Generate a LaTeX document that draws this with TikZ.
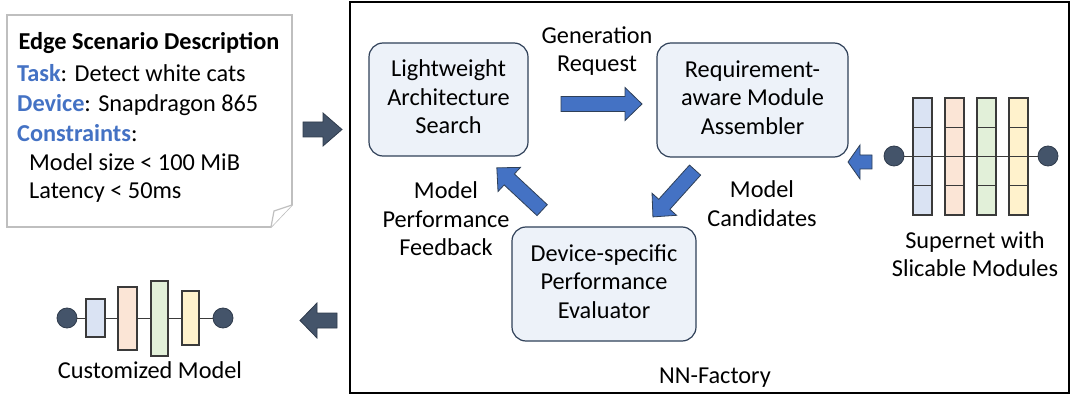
\documentclass[tikz,border=0pt]{standalone}
\usepackage{fontspec}
\setmainfont{Carlito}
\definecolor{accent}{HTML}{4472C4}
\definecolor{navy}{HTML}{44546A}
\definecolor{navyline}{HTML}{2F3B4C}
\definecolor{boxfill}{HTML}{EDF2F9}
\definecolor{boxline}{HTML}{2F4058}
\definecolor{notegray}{HTML}{BFBFBF}
\definecolor{cblue}{HTML}{DAE3F3}
\definecolor{cpeach}{HTML}{FBE5D6}
\definecolor{cgreen}{HTML}{E2F0D9}
\definecolor{cyellow}{HTML}{FFF2CC}
\definecolor{cellline}{HTML}{3A3A3A}
\newcommand{\bigtxt}{\fontsize{24.3}{28.5}\selectfont}
% style, cx, cy, angle, length, body half, head half, head length
\newcommand{\blockarrow}[8]{%
  \begin{scope}[shift={(#2,#3)}, rotate=#4]
    \draw[#1] (-#5/2,-#6) -- (#5/2-#8,-#6) -- (#5/2-#8,-#7) -- (#5/2,0)
      -- (#5/2-#8,#7) -- (#5/2-#8,#6) -- (-#5/2,#6) -- cycle;
  \end{scope}}
\begin{document}
\begin{tikzpicture}[x=1pt,y=-1pt,
  every node/.style={font=\bigtxt, inner sep=0pt},
  procbox/.style={draw=boxline, line width=1.2pt, fill=boxfill, rounded corners=14pt, align=center},
  lbl/.style={align=center},
  darrowst/.style={draw=navyline, fill=navy, line width=0.8pt, line join=miter},
  barrowst/.style={draw=boxline, fill=accent, line width=0.8pt, line join=miter},
  dot/.style={circle, draw=navyline, fill=navy, line width=0.8pt, minimum size=20pt},
  cell/.style={draw=cellline, line width=1.1pt},
]
\useasboundingbox (0,0) rectangle (1071,398);
% ---- note ----
\draw[notegray, line width=1.6pt, fill=white] (7,15) -- (292,15) -- (292,205) -- (271,227) -- (7,227) -- cycle;
\draw[notegray, line width=1.2pt, fill=white] (271,227) -- (274,211) -- (292,205);
\node[anchor=base] (title) at (149,50) {\bfseries Edge Scenario Description};
\node[anchor=base west] (task) at (17,82) {\textcolor{accent}{\bfseries Task}: Detect white cats};
\node[anchor=base west] (dev) at (17,112) {\textcolor{accent}{\bfseries Device}: Snapdragon 865};
\node[anchor=base west] (cons) at (17,142) {\textcolor{accent}{\bfseries Constraints}:};
\node[anchor=base west] (msize) at (29,171) {Model size < 100 MiB};
\node[anchor=base west] (lat) at (29,199) {Latency < 50ms};
% ---- NN-Factory frame ----
\draw[black, line width=1.2pt] (350,2) rectangle (1069,393) ;
\node[anchor=base] (nnf) at (715,383) {NN-Factory};
% ---- process boxes ----
\node[procbox, minimum width=159pt, minimum height=113pt] (las) at (448.5,99.5)
  {\strut Lightweight\\\strut Architecture\\\strut Search};
\node[procbox, minimum width=191pt, minimum height=114pt] (ram) at (752.5,100)
  {\strut Requirement-\\\strut aware Module\\\strut Assembler};
\node[procbox, minimum width=184pt, minimum height=114pt] (dpe) at (604,284)
  {\strut Device-specific\\\strut Performance\\\strut Evaluator};
% ---- labels ----
\node[lbl] (genreq) at (597,51.8) {\strut Generation\\\strut Request};
\node[lbl] (mpf) at (446,221.5) {\strut Model\\\strut Performance\\\strut Feedback};
\node[lbl] (mc) at (762,206.3) {\strut Model\\\strut Candidates};
\node[lbl] (snl) at (975,256.8) {\strut Supernet with\\\strut Slicable Modules};
\node[lbl] (cml) at (150,372.3) {\strut Customized Model};
% ---- blue arrows ----
\blockarrow{barrowst}{601.5}{104}{0}{81}{7.5}{16.5}{17}
\blockarrow{barrowst}{674}{193.5}{228}{63}{7.5}{16.5}{17}
\blockarrow{barrowst}{519.5}{189}{137}{62}{7.5}{16.5}{17}
\blockarrow{barrowst}{860}{162}{180}{24}{7}{17}{12}
% ---- dark arrows ----
\blockarrow{darrowst}{322.5}{129.5}{0}{39}{7.5}{16.5}{19}
\blockarrow{darrowst}{318.5}{320.5}{180}{37}{7.5}{17.5}{17}
% ---- supernet ----
\node[dot] (sin) at (894,156) {};
\node[dot] (sout) at (1048,156) {};
\draw[cellline, line width=0.6pt] (sin) -- (sout);
\foreach \x/\c in {913/cblue, 945/cpeach, 977/cgreen, 1009/cyellow}{
  \foreach \y in {98,127.25,156.5,185.75}{
    \draw[cell, fill=\c] (\x,\y) rectangle ++(19,29.25);
  }
}
\draw[cellline, line width=0.6pt] (sin) -- (sout);
% ---- customized model ----
\node[dot] (cin) at (67,318) {};
\node[dot] (cout) at (223,318) {};
\draw[cellline, line width=0.6pt] (cin) -- (cout);
\node[cell, fill=cblue, minimum width=19pt, minimum height=38pt] (m1) at (95.5,318) {};
\node[cell, fill=cpeach, minimum width=19pt, minimum height=63pt] (m2) at (127.5,318.5) {};
\node[cell, fill=cgreen, minimum width=17pt, minimum height=75pt] (m3) at (159.5,318.5) {};
\node[cell, fill=cyellow, minimum width=17pt, minimum height=54pt] (m4) at (190.5,318) {};
\end{tikzpicture}
\end{document}
